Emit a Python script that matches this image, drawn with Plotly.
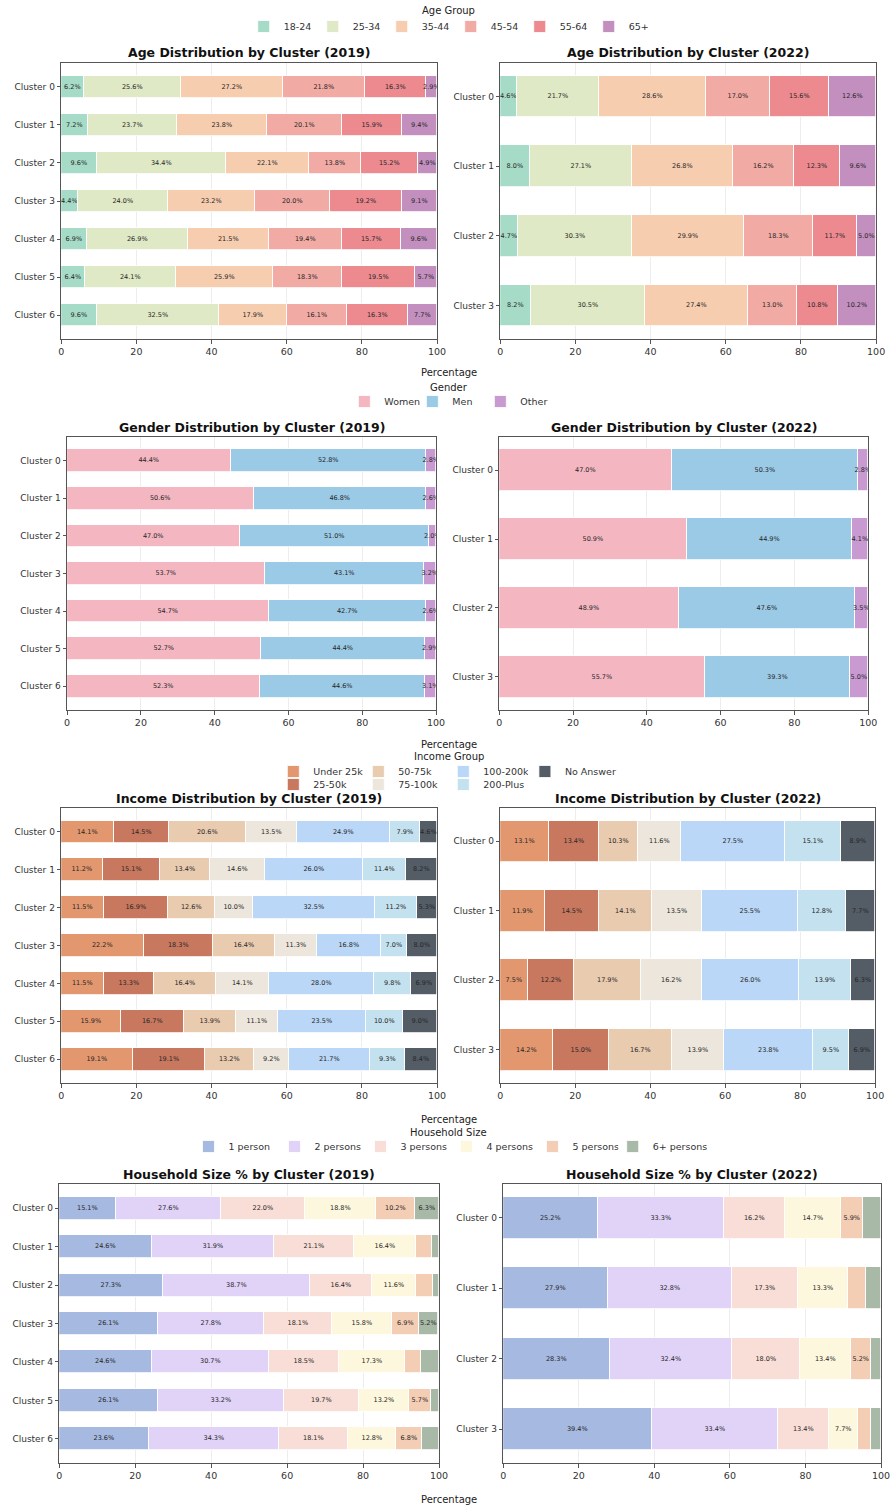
import plotly.graph_objects as go

W, H = 893, 1507
FONT = "DejaVu Sans"

clusters_2019 = ["Cluster 0", "Cluster 1", "Cluster 2", "Cluster 3", "Cluster 4", "Cluster 5", "Cluster 6"]
clusters_2022 = ["Cluster 0", "Cluster 1", "Cluster 2", "Cluster 3"]

# ---------------- Age ----------------
age_groups = ["18-24", "25-34", "35-44", "45-54", "55-64", "65+"]
age_colors = ["#a6dcc7", "#dfe9c5", "#f7cdb0", "#f2aba4", "#ec8a90", "#c28fbf"]
age_2019 = [
    [6.2, 25.6, 27.2, 21.8, 16.3, 2.9],
    [7.2, 23.7, 23.8, 20.1, 15.9, 9.4],
    [9.6, 34.4, 22.1, 13.8, 15.2, 4.9],
    [4.4, 24.0, 23.2, 20.0, 19.2, 9.1],
    [6.9, 26.9, 21.5, 19.4, 15.7, 9.6],
    [6.4, 24.1, 25.9, 18.3, 19.5, 5.7],
    [9.6, 32.5, 17.9, 16.1, 16.3, 7.7],
]
age_2022 = [
    [4.6, 21.7, 28.6, 17.0, 15.6, 12.6],
    [8.0, 27.1, 26.8, 16.2, 12.3, 9.6],
    [4.7, 30.3, 29.9, 18.3, 11.7, 5.0],
    [8.2, 30.5, 27.4, 13.0, 10.8, 10.2],
]

# ---------------- Gender ----------------
gender_groups = ["Women", "Men", "Other"]
gender_colors = ["#f4b7c2", "#9bcae7", "#c99ad2"]
gender_2019 = [
    [44.4, 52.8, 2.8],
    [50.6, 46.8, 2.6],
    [47.0, 51.0, 2.0],
    [53.7, 43.1, 3.2],
    [54.7, 42.7, 2.6],
    [52.7, 44.4, 2.9],
    [52.3, 44.6, 3.1],
]
gender_2022 = [
    [47.0, 50.3, 2.8],
    [50.9, 44.9, 4.1],
    [48.9, 47.6, 3.5],
    [55.7, 39.3, 5.0],
]

# ---------------- Income ----------------
income_groups = ["Under 25k", "25-50k", "50-75k", "75-100k", "100-200k", "200-Plus", "No Answer"]
income_colors = ["#e2976f", "#c8785f", "#e9cbb0", "#ede6dc", "#bad7f7", "#c4e1ef", "#545c66"]
income_2019 = [
    [14.1, 14.5, 20.6, 13.5, 24.9, 7.9, 4.6],
    [11.2, 15.1, 13.4, 14.6, 26.0, 11.4, 8.2],
    [11.5, 16.9, 12.6, 10.0, 32.5, 11.2, 5.3],
    [22.2, 18.3, 16.4, 11.3, 16.8, 7.0, 8.0],
    [11.5, 13.3, 16.4, 14.1, 28.0, 9.8, 6.9],
    [15.9, 16.7, 13.9, 11.1, 23.5, 10.0, 9.0],
    [19.1, 19.1, 13.2, 9.2, 21.7, 9.3, 8.4],
]
income_2022 = [
    [13.1, 13.4, 10.3, 11.6, 27.5, 15.1, 8.9],
    [11.9, 14.5, 14.1, 13.5, 25.5, 12.8, 7.7],
    [7.5, 12.2, 17.9, 16.2, 26.0, 13.9, 6.3],
    [14.2, 15.0, 16.7, 13.9, 23.8, 9.5, 6.9],
]

# ---------------- Household ----------------
hh_groups = ["1 person", "2 persons", "3 persons", "4 persons", "5 persons", "6+ persons"]
hh_colors = ["#a6b9e1", "#e1d3f8", "#f8ded6", "#fdf8dd", "#f4cdb5", "#a9b9a7"]
hh_2019 = [
    [15.1, 27.6, 22.0, 18.8, 10.2, 6.3],
    [24.6, 31.9, 21.1, 16.4, 4.3, 1.7],
    [27.3, 38.7, 16.4, 11.6, 4.5, 1.5],
    [26.1, 27.8, 18.1, 15.8, 6.9, 5.2],
    [24.6, 30.7, 18.5, 17.3, 4.3, 4.6],
    [26.1, 33.2, 19.7, 13.2, 5.7, 2.1],
    [23.6, 34.3, 18.1, 12.8, 6.8, 4.4],
]
hh_2022 = [
    [25.2, 33.3, 16.2, 14.7, 5.9, 4.7],
    [27.9, 32.8, 17.3, 13.3, 4.8, 3.9],
    [28.3, 32.4, 18.0, 13.4, 5.2, 2.7],
    [39.4, 33.4, 13.4, 7.7, 3.6, 2.5],
]

x_ticks = [0, 20, 40, 60, 80, 100]

fig = go.Figure()

# panel geometry in pixels: (left, right, top, bottom)
panels = [
    (1, "Age Distribution by Cluster (2019)", clusters_2019, age_groups, age_colors, age_2019, (59, 440, 63, 339), 0.0, True),
    (2, "Age Distribution by Cluster (2022)", clusters_2022, age_groups, age_colors, age_2022, (504, 885, 63, 339), 0.0, False),
    (3, "Gender Distribution by Cluster (2019)", clusters_2019, gender_groups, gender_colors, gender_2019, (65, 439, 437, 710), 0.0, True),
    (4, "Gender Distribution by Cluster (2022)", clusters_2022, gender_groups, gender_colors, gender_2022, (503, 877, 437, 710), 0.0, False),
    (5, "Income Distribution by Cluster (2019)", clusters_2019, income_groups, income_colors, income_2019, (59, 440, 808, 1083), 0.0, True),
    (6, "Income Distribution by Cluster (2022)", clusters_2022, income_groups, income_colors, income_2022, (504, 884, 808, 1083), 0.0, False),
    (7, "Household Size % by Cluster (2019)", clusters_2019, hh_groups, hh_colors, hh_2019, (57, 442, 1184, 1463), 5.0, True),
    (8, "Household Size % by Cluster (2022)", clusters_2022, hh_groups, hh_colors, hh_2022, (507, 890, 1184, 1463), 5.0, False),
]


def legend_for(idx, j, ncat):
    if idx in (1, 2):
        return "legend"
    if idx in (3, 4):
        return "legend2"
    if idx in (5, 6):
        if j == ncat - 1:
            return "legend6"
        return "legend3" if j % 2 == 0 else "legend4"
    if j == ncat - 1:
        return "legend7"
    return "legend5"


annotations = []
layout_axes = {}
for idx, title, clusters, cats, colors, data, (l, r, t, b), min_lab, show in panels:
    xa = "x" if idx == 1 else f"x{idx}"
    ya = "y" if idx == 1 else f"y{idx}"
    for j, cat in enumerate(cats):
        vals = [row[j] for row in data]
        texts = [f"{v:.1f}%" if v >= min_lab else "" for v in vals]
        fig.add_trace(go.Bar(
            x=vals, y=clusters, orientation="h", name=cat,
            width=0.6,
            marker=dict(color=colors[j], line=dict(color="white", width=0.8)),
            text=texts, textposition="inside", insidetextanchor="middle",
            textangle=0, constraintext="none",
            textfont=dict(size=6.5, color="#262626", family=FONT),
            xaxis=xa, yaxis=ya,
            legend=legend_for(idx, j, len(cats)), showlegend=show,
            hovertemplate=f"{cat}: %{{x:.1f}}%<extra>%{{y}}</extra>",
        ))
    n = len(clusters)
    m = 0.3 + 0.05 * (n - 1 + 0.6)
    xk = "xaxis" if idx == 1 else f"xaxis{idx}"
    yk = "yaxis" if idx == 1 else f"yaxis{idx}"
    layout_axes[xk] = dict(
        domain=[l / W, r / W], anchor=ya, range=[0, 100], tickvals=x_ticks,
        showgrid=True, gridcolor="rgba(0,0,0,0.07)", gridwidth=1,
        showline=True, mirror=True, linecolor="#555555", linewidth=1,
        ticks="outside", ticklen=3.5, tickcolor="#555555",
        tickfont=dict(size=9.5, color="#333333", family=FONT), zeroline=False,
    )
    layout_axes[yk] = dict(
        domain=[1 - b / H, 1 - t / H], anchor=xa, type="category",
        range=[n - 1 + m, -m],
        showgrid=False, showline=True, mirror=True, linecolor="#555555", linewidth=1,
        ticks="outside", ticklen=3.5, tickcolor="#555555",
        tickfont=dict(size=9, color="#333333", family=FONT), zeroline=False,
    )
    annotations.append(dict(
        text=f"<b>{title}</b>", x=(l + r) / 2 / W, y=1 - (t - 10) / H,
        xref="paper", yref="paper", xanchor="center", yanchor="middle",
        showarrow=False, font=dict(size=12.5, color="#111111", family=FONT),
    ))

for ypx in (373, 744, 1119, 1499):
    annotations.append(dict(
        text="Percentage", x=452 / W, y=1 - ypx / H, xref="paper", yref="paper",
        xanchor="center", yanchor="middle", showarrow=False,
        font=dict(size=10, color="#222222", family=FONT),
    ))

# legend titles
for txt, ypx in (("Age Group", 11), ("Gender", 387), ("Income Group", 757), ("Household Size", 1132)):
    annotations.append(dict(
        text=txt, x=452 / W, y=1 - ypx / H, xref="paper", yref="paper",
        xanchor="center", yanchor="middle", showarrow=False,
        font=dict(size=10, color="#222222", family=FONT),
    ))

leg_common = dict(orientation="h", xanchor="left", yanchor="top",
                  bgcolor="rgba(0,0,0,0)", font=dict(size=9.5, color="#333333", family=FONT),
                  entrywidthmode="pixels", traceorder="normal", itemclick=False)

fig.update_layout(
    width=W, height=H, margin=dict(l=0, r=0, t=0, b=0),
    paper_bgcolor="white", plot_bgcolor="white",
    barmode="stack", bargap=0,
    font=dict(family=FONT),
    annotations=annotations,
    legend=dict(**leg_common, x=244 / W, y=1 - 12 / H, entrywidth=24),
    legend2=dict(**leg_common, x=346 / W, y=1 - 387 / H, entrywidth=23),
    legend3=dict(**leg_common, x=274 / W, y=1 - 757 / H, entrywidth=40),
    legend4=dict(**leg_common, x=274 / W, y=1 - 770 / H, entrywidth=40),
    legend6=dict(**leg_common, x=(274 + 3 * 85) / W, y=1 - 757 / H, entrywidth=0),
    legend5=dict(**leg_common, x=188 / W, y=1 - 1132 / H, entrywidth=41),
    legend7=dict(**leg_common, x=(188 + 5 * 86) / W, y=1 - 1132 / H, entrywidth=0),
    **layout_axes,
)

fig.write_html("out.html", config={"displayModeBar": False},
               post_script="document.body.style.margin='0px';")
